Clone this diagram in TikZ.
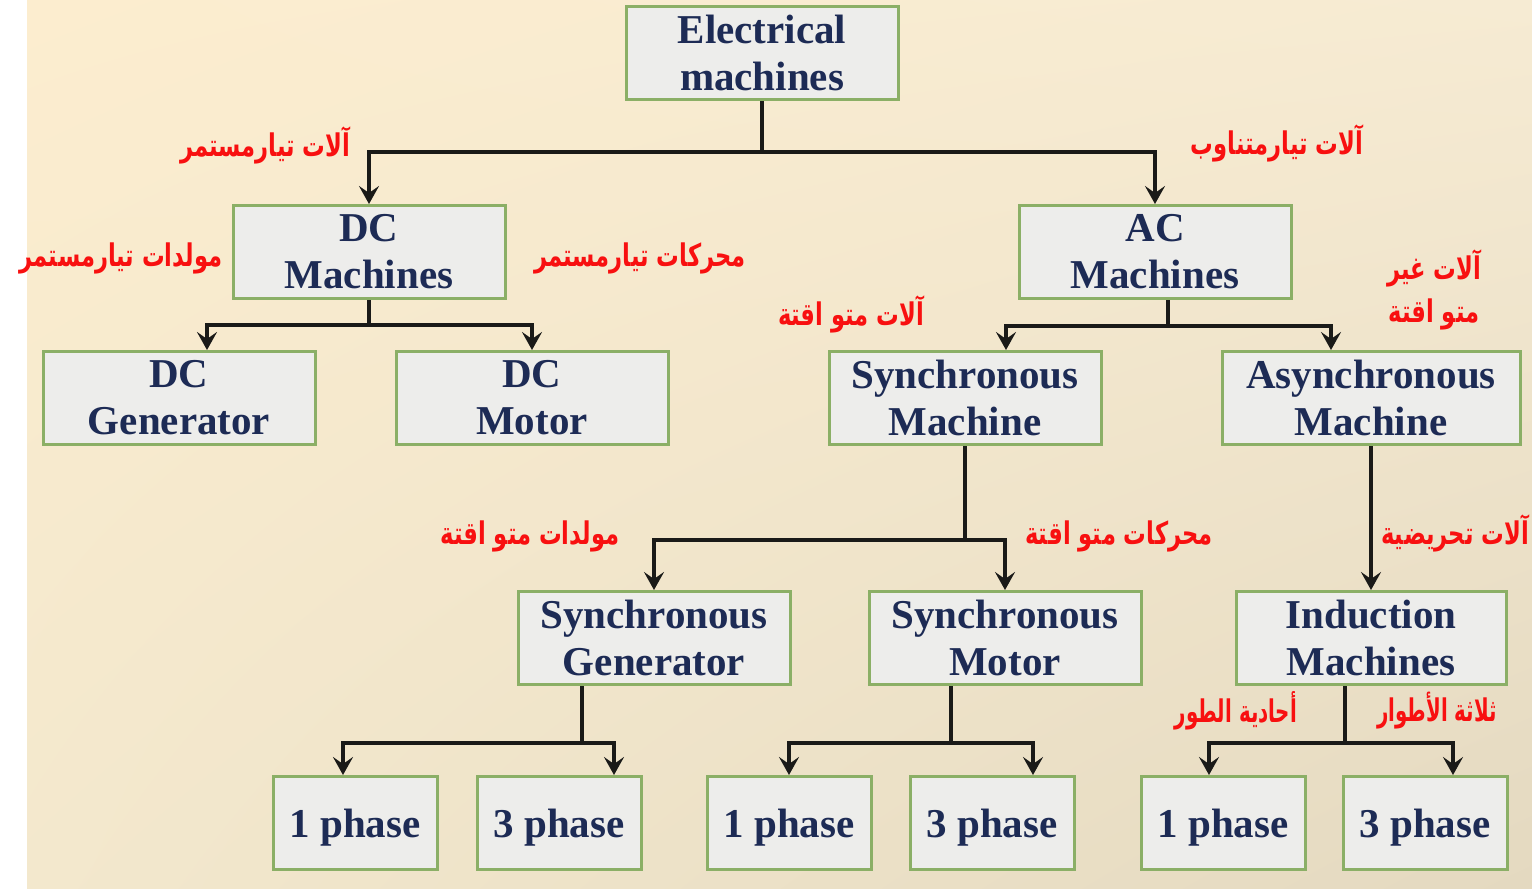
\documentclass[tikz,border=0pt]{standalone}
\usepackage{fontspec}
\usepackage{graphicx}
\setmainfont{Liberation Serif}
\newfontfamily\arabicfont[Script=Arabic]{DejaVu Sans}
\TeXXeTstate=1
\usetikzlibrary{arrows.meta,calc,shadings}
\definecolor{navy}{HTML}{1D2B55}
\definecolor{boxgreen}{HTML}{8BAF66}
\definecolor{boxfill}{HTML}{EDEDEB}
\definecolor{linec}{HTML}{1A1A18}
\definecolor{labred}{HTML}{F81010}
\definecolor{bgUL}{HTML}{FCEDCF}
\definecolor{bgUR}{HTML}{F6EBD3}
\definecolor{bgLL}{HTML}{F3E8CD}
\definecolor{bgLR}{HTML}{E4D9C0}
\newcommand{\artxt}[1]{\scalebox{0.87}[1.2]{\beginR #1\endR}}
\newcommand{\artxtn}[1]{\scalebox{0.76}[1.2]{\beginR #1\endR}}
\tikzset{
  mbox/.style={draw=boxgreen, line width=1.5pt, fill=boxfill, text=navy,
    minimum width=136pt, minimum height=46.5pt, inner sep=0pt, align=center,
    font=\fontsize{20.5}{23.5}\selectfont\bfseries},
  pbox/.style={mbox, minimum width=82pt, text depth=0pt},
  conn/.style={draw=linec, line width=2pt},
  arr/.style={conn, -{Stealth[length=9pt,width=10pt,inset=3.5pt]}},
  arlab/.style={text=labred, inner sep=0pt, align=center,
    font=\arabicfont\bfseries\fontsize{13}{23}\selectfont}
}
\begin{document}
\begin{tikzpicture}[x=0.5pt,y=-0.5pt]
\useasboundingbox (0,0) rectangle (1532,889);
\fill[white] (0,0) rectangle (27,889);
\shade[upper left=bgUL, upper right=bgUR, lower left=bgLL, lower right=bgLR] (27,0) rectangle (1532,889);

% boxes
\node[mbox] (em) at (762,53) {Electrical\\machines};
\node[mbox] (dc) at (369,252) {DC\\Machines};
\node[mbox] (ac) at (1155,252) {AC\\Machines};
\node[mbox] (dcg) at (179,398) {DC\\Generator};
\node[mbox] (dcm) at (532,398) {DC\\Motor};
\node[mbox] (sm) at (965,398) {Synchronous\\Machine};
\node[mbox, minimum width=149pt] (am) at (1371,398) {Asynchronous\\Machine};
\node[mbox] (sg) at (654,638) {Synchronous\\Generator};
\node[mbox] (smo) at (1005,638) {Synchronous\\Motor};
\node[mbox, minimum width=135pt] (im) at (1371,638) {Induction\\Machines};
\node[pbox] (p1) at (355,823) {1 phase};
\node[pbox] (p2) at (559,823) {3 phase};
\node[pbox] (p3) at (789,823) {1 phase};
\node[pbox] (p4) at (992,823) {3 phase};
\node[pbox] (p5) at (1223,823) {1 phase};
\node[pbox] (p6) at (1425,823) {3 phase};

% junctions
\coordinate (j1) at (762,152);
\coordinate (j2) at (369,325);
\coordinate (j3) at (1168,326);
\coordinate (j4) at (965,540);
\coordinate (j5) at (582,743);
\coordinate (j6) at (951,743);
\coordinate (j7) at (1345,743);

% connectors
\draw[conn] (em.south) -- (j1);
\draw[arr] (j1) -| (dc.north);
\draw[arr] (j1) -| (ac.north);

\draw[conn] (dc.south) -- (j2);
\draw[arr] (j2) -| ([xshift=14pt]dcg.north);
\draw[arr] (j2) -| (dcm.north);

\draw[conn] ([xshift=6.5pt]ac.south) -- (j3);
\draw[arr] (j3) -| ([xshift=20.5pt]sm.north);
\draw[arr] (j3) -| ([xshift=-20pt]am.north);

\draw[conn] (sm.south) -- (j4);
\draw[arr] (j4) -| (sg.north);
\draw[arr] (j4) -| (smo.north);

\draw[arr] (am.south) -- (im.north);

\draw[conn] ([xshift=-36pt]sg.south) -- (j5);
\draw[arr] (j5) -| ([xshift=-6pt]p1.north);
\draw[arr] (j5) -| ([xshift=27.5pt]p2.north);

\draw[conn] ([xshift=-27pt]smo.south) -- (j6);
\draw[arr] (j6) -| (p3.north);
\draw[arr] (j6) -| ([xshift=20.5pt]p4.north);

\draw[conn] ([xshift=-13pt]im.south) -- (j7);
\draw[arr] (j7) -| ([xshift=-7pt]p5.north);
\draw[arr] (j7) -| ([xshift=14pt]p6.north);

% Arabic labels
\node[arlab] (l1) at (265,145) {\artxt{آلات تيارمستمر}};
\node[arlab] (l2) at (1277,143) {\artxt{آلات تيارمتناوب}};
\node[arlab] (l3) at (121,258) {\artxt{مولدات تيارمستمر}};
\node[arlab] (l4) at (640,258) {\artxt{محركات تيارمستمر}};
\node[arlab] (l5) at (851,314) {\artxt{آلات متو اقتة}};
\node[arlab] (l6) at (1434,268) {\artxt{آلات غير}};
\node[arlab] (l6b) at (1434,314) {\artxt{متو اقتة}};
\node[arlab] (l7) at (530,536) {\artxt{مولدات متو اقتة}};
\node[arlab] (l8) at (1119,536) {\artxt{محركات متو اقتة}};
\node[arlab] (l9) at (1455,533) {\artxt{آلات تحريضية}};
\node[arlab] (l10) at (1236,711) {\artxtn{أحادية الطور}};
\node[arlab] (l11) at (1437,711) {\artxtn{ثلاثة الأطوار}};
\end{tikzpicture}
\end{document}
